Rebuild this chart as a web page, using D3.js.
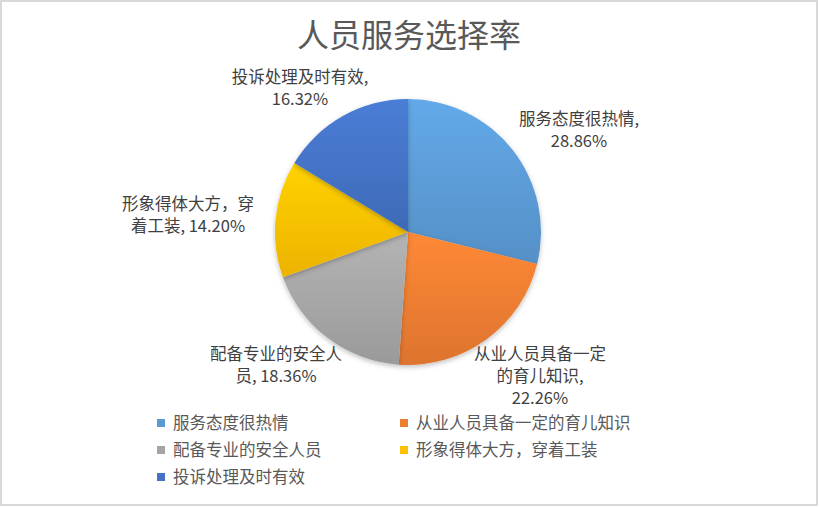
<!DOCTYPE html>
<html>
<head>
<meta charset="utf-8">
<script src="https://cdn.jsdelivr.net/npm/d3@7"></script>
<style>
  body { margin: 0; background: #fff; }
  text { font-family: "Noto Sans CJK SC", "Lato", sans-serif; }
</style>
</head>
<body>
<div id="chart"></div>
<script>
// data
const categories = ["服务态度很热情", "从业人员具备一定的育儿知识", "配备专业的安全人员", "形象得体大方，穿着工装", "投诉处理及时有效"];
const values = [28.86, 22.26, 18.36, 14.20, 16.32];
const colors = ["#5B9BD5", "#ED7D31", "#A5A5A5", "#FFC000", "#4472C4"];
// label lines as wrapped in the picture
const labelLines = [
  ["服务态度很热情,", "28.86%"],
  ["从业人员具备一定", "的育儿知识,", "22.26%"],
  ["配备专业的安全人", "员, 18.36%"],
  ["形象得体大方，穿", "着工装, 14.20%"],
  ["投诉处理及时有效,", "16.32%"]
];

const W = 819, H = 507;
const cx = 408, cy = 232, r = 133;

const svg = d3.select("#chart").append("svg")
  .attr("width", W).attr("height", H);

// frame
svg.append("rect")
  .attr("x", 1).attr("y", 1).attr("width", W - 3).attr("height", H - 3)
  .attr("fill", "#fff").attr("stroke", "#D9D9D9").attr("stroke-width", 2);

// title
svg.append("text")
  .attr("x", 409).attr("y", 47)
  .attr("text-anchor", "middle")
  .attr("font-size", "32px")
  .attr("fill", "#595959")
  .text("人员服务选择率");

// gradients, lighter on top
const defs = svg.append("defs");
colors.forEach((c, i) => {
  const g = defs.append("linearGradient")
    .attr("id", "grad" + i)
    .attr("x1", 0).attr("y1", 0).attr("x2", 0).attr("y2", 1);
  g.append("stop").attr("offset", "0%").attr("stop-color", d3.color(c).brighter(0.25));
  g.append("stop").attr("offset", "100%").attr("stop-color", d3.color(c).darker(0.2));
});

const filter = defs.append("filter").attr("id", "shadow")
  .attr("x", "-10%").attr("y", "-10%").attr("width", "120%").attr("height", "125%");
filter.append("feDropShadow")
  .attr("dx", 0).attr("dy", 2).attr("stdDeviation", 2.5)
  .attr("flood-color", "#000").attr("flood-opacity", 0.25);

const pie = d3.pie().sort(null).value(d => d);
const arc = d3.arc().innerRadius(0).outerRadius(r);
const arcs = pie(values);

const g = svg.append("g").attr("transform", `translate(${cx},${cy})`);
g.selectAll("path")
  .data(arcs)
  .join("path")
  .attr("d", arc)
  .attr("fill", (d, i) => `url(#grad${i})`)
  .attr("filter", "url(#shadow)");

// data labels (anchor = center of first line baseline)
const labelPos = [
  [579, 125],
  [540, 360],
  [276, 360],
  [188, 210],
  [300, 83]
];
const lineH = 22;
labelLines.forEach((lines, i) => {
  lines.forEach((s, j) => {
    svg.append("text")
      .attr("text-anchor", "middle")
      .attr("font-size", "16.5px")
      .attr("fill", "#404040")
      .attr("x", labelPos[i][0])
      .attr("y", labelPos[i][1] + j * lineH)
      .text(s);
  });
});

// legend
const legendX = [157, 400];
const legendY = [423, 450, 477];
const leg = svg.append("g");
categories.forEach((c, i) => {
  const x = legendX[i % 2], y = legendY[Math.floor(i / 2)];
  leg.append("rect")
    .attr("x", x).attr("y", y - 4).attr("width", 8).attr("height", 8)
    .attr("fill", colors[i]);
  leg.append("text")
    .attr("x", x + 16).attr("y", y + 6)
    .attr("font-size", "16.5px")
    .attr("fill", "#595959")
    .text(c);
});
</script>
</body>
</html>
